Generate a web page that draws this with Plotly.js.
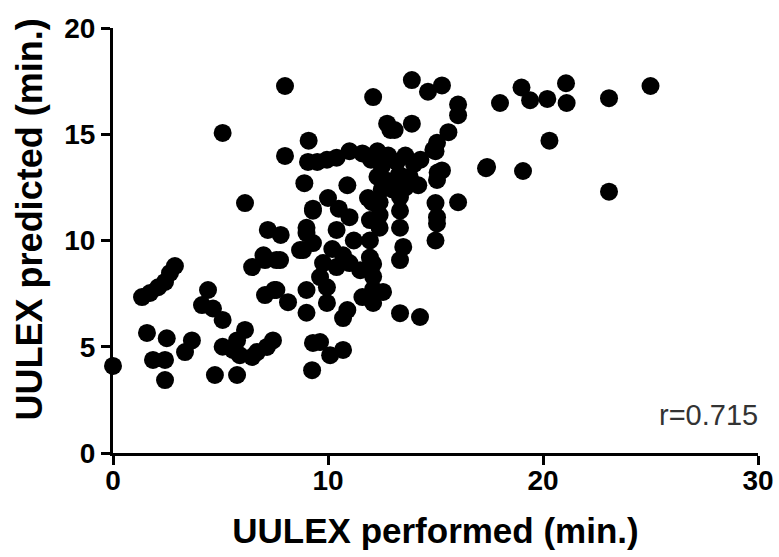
<!DOCTYPE html>
<html>
<head>
<meta charset="utf-8">
<script src="https://cdn.plot.ly/plotly-3.0.1.min.js"></script>
<style>html,body{margin:0;padding:0;background:#fff;}#chart{width:779px;height:557px;}</style>
</head>
<body>
<div id="chart"></div>
<script>
// UULEX performed (min.)
const performed = [
  0,
  1.35,1.72,2.1,2.42,2.65,2.88,
  1.58,2.5,3.67,3.35,1.86,2.42,2.42,
  4.42,4.14,4.65,5.1,
  4.74,5.77,
  6.14,5.1,5.58,5.9,6.47,6.7,7.16,7.44,5.77,
  6.47,7.07,7.77,
  7.07,7.6,8.14,
  9.0,9.0,9.26,9.3,8.7,
  7.6,7.5,
  8.0,5.1,9.1,8.0,9.07,8.9,6.14,9.3,
  7.2,7.8,9.0,7.0,
  9.5,9.95,10.4,11.0,11.6,12.3,
  10.9,10.0,9.3,11.86,11.0,11.95,
  9.0,9.3,8.84,9.77,9.63,10.4,11.0,11.5,11.95,11.95,10.4,11.2,
  9.95,9.95,10.9,10.7,11.6,12.1,
  9.63,10.1,10.7,
  10.2,10.7,10.5,
  13.9,14.65,15.3,12.1,16.05,16.05,
  12.75,13.1,13.9,15.6,15.07,15.0,15.3,
  12.9,
  15.1,15.07,17.4,16.05,15.0,15.07,15.0,15.07,
  12.05,
  12.0,12.5,12.8,13.2,13.6,14.0,14.3,12.3,12.8,13.3,13.8,14.2,12.5,13.0,13.6,
  12.4,12.4,12.4,13.35,13.35,13.35,13.5,13.35,
  12.1,12.1,12.1,12.56,13.35,14.28,
  14.9,
  18.0,19.0,19.4,20.2,21.07,21.1,20.3,17.35,19.07,23.07,25.0,23.07
];
// UULEX predicted (min.)
const predicted = [
  4.1,
  7.34,7.53,7.8,8.05,8.47,8.8,
  5.65,5.4,5.3,4.75,4.38,4.38,3.43,
  7.67,6.96,6.8,6.26,
  3.67,3.67,
  5.79,5.0,4.85,4.6,4.52,4.75,4.99,5.3,5.3,
  8.75,9.08,9.08,
  7.43,7.67,7.1,
  7.67,6.6,3.9,5.18,9.55,
  9.08,7.67,
  17.27,15.06,14.7,13.98,13.7,12.7,11.76,11.4,
  10.5,10.26,10.35,9.3,
  13.7,13.8,13.9,14.2,14.1,14.2,
  12.6,12.0,11.5,12.0,11.1,10.96,
  10.6,9.88,9.55,8.94,8.28,8.75,8.94,8.6,9.2,10.0,10.5,10.0,
  7.8,7.06,6.73,6.35,7.34,7.06,
  5.22,4.6,4.85,
  9.6,9.3,11.5,
  17.55,17.0,17.3,16.75,16.4,15.9,
  15.5,15.2,15.5,15.1,14.6,14.2,13.3,
  15.2,
  13.2,12.85,13.46,11.8,11.76,11.1,10.0,10.8,
  11.8,
  13.8,13.5,14.0,13.7,14.0,13.6,13.8,13.0,12.8,13.1,13.0,12.6,12.4,12.4,12.5,
  11.8,11.2,10.6,12.05,11.4,10.6,9.7,9.08,
  8.9,8.3,7.7,7.58,6.58,6.4,
  14.26,
  16.47,17.2,16.6,16.66,17.4,16.47,14.7,13.4,13.27,16.7,17.27,12.3
];
const xTicks = [0, 10, 20, 30];
const yTicks = [0, 5, 10, 15, 20];
const xTitle = "UULEX performed (min.)";
const yTitle = "UULEX predicted (min.)";
const rLabel = "r=0.715";

const trace = {
  type: 'scatter', mode: 'markers',
  x: performed, y: predicted,
  cliponaxis: false,
  marker: {color: '#000', size: 18, symbol: 'circle', line: {width: 0}},
  hoverinfo: 'skip'
};
const FAM = 'Liberation Sans, Arial, sans-serif';
const tickFont = {family: FAM, size: 28, color: '#000', weight: 'bold'};
const layout = {
  width: 779, height: 557,
  margin: {l: 113, r: 21, t: 28, b: 104},
  paper_bgcolor: '#fff', plot_bgcolor: '#fff',
  showlegend: false,
  xaxis: {
    range: [0, 30], tickvals: xTicks, ticktext: xTicks.map(String),
    showgrid: false, zeroline: false, showline: true, linecolor: '#000', linewidth: 3,
    ticks: 'outside', ticklen: 9, tickwidth: 3, tickcolor: '#000',
    tickfont: tickFont, ticklabelstandoff: -9,
    title: {text: '<b>' + xTitle + '</b>', font: {family: FAM, size: 35, color: '#000'}, standoff: 24}
  },
  yaxis: {
    range: [0, 20], tickvals: yTicks, ticktext: yTicks.map(String),
    showgrid: false, zeroline: false, showline: true, linecolor: '#000', linewidth: 3,
    ticks: 'outside', ticklen: 9, tickwidth: 3, tickcolor: '#000',
    tickfont: tickFont
  },
  annotations: [{
    text: rLabel, xref: 'paper', yref: 'paper', x: 1.003, y: 0.09, xanchor: 'right', yanchor: 'middle',
    showarrow: false, font: {family: FAM, size: 29, color: '#333'}
  }, {
    text: '<b>' + yTitle + '</b>', xref: 'paper', yref: 'paper', x: -0.13, y: 0.55,
    xanchor: 'center', yanchor: 'middle', textangle: -90,
    showarrow: false, font: {family: FAM, size: 36, color: '#000'}
  }]
};
Plotly.newPlot('chart', [trace], layout, {displayModeBar: false, staticPlot: true});
</script>
</body>
</html>
